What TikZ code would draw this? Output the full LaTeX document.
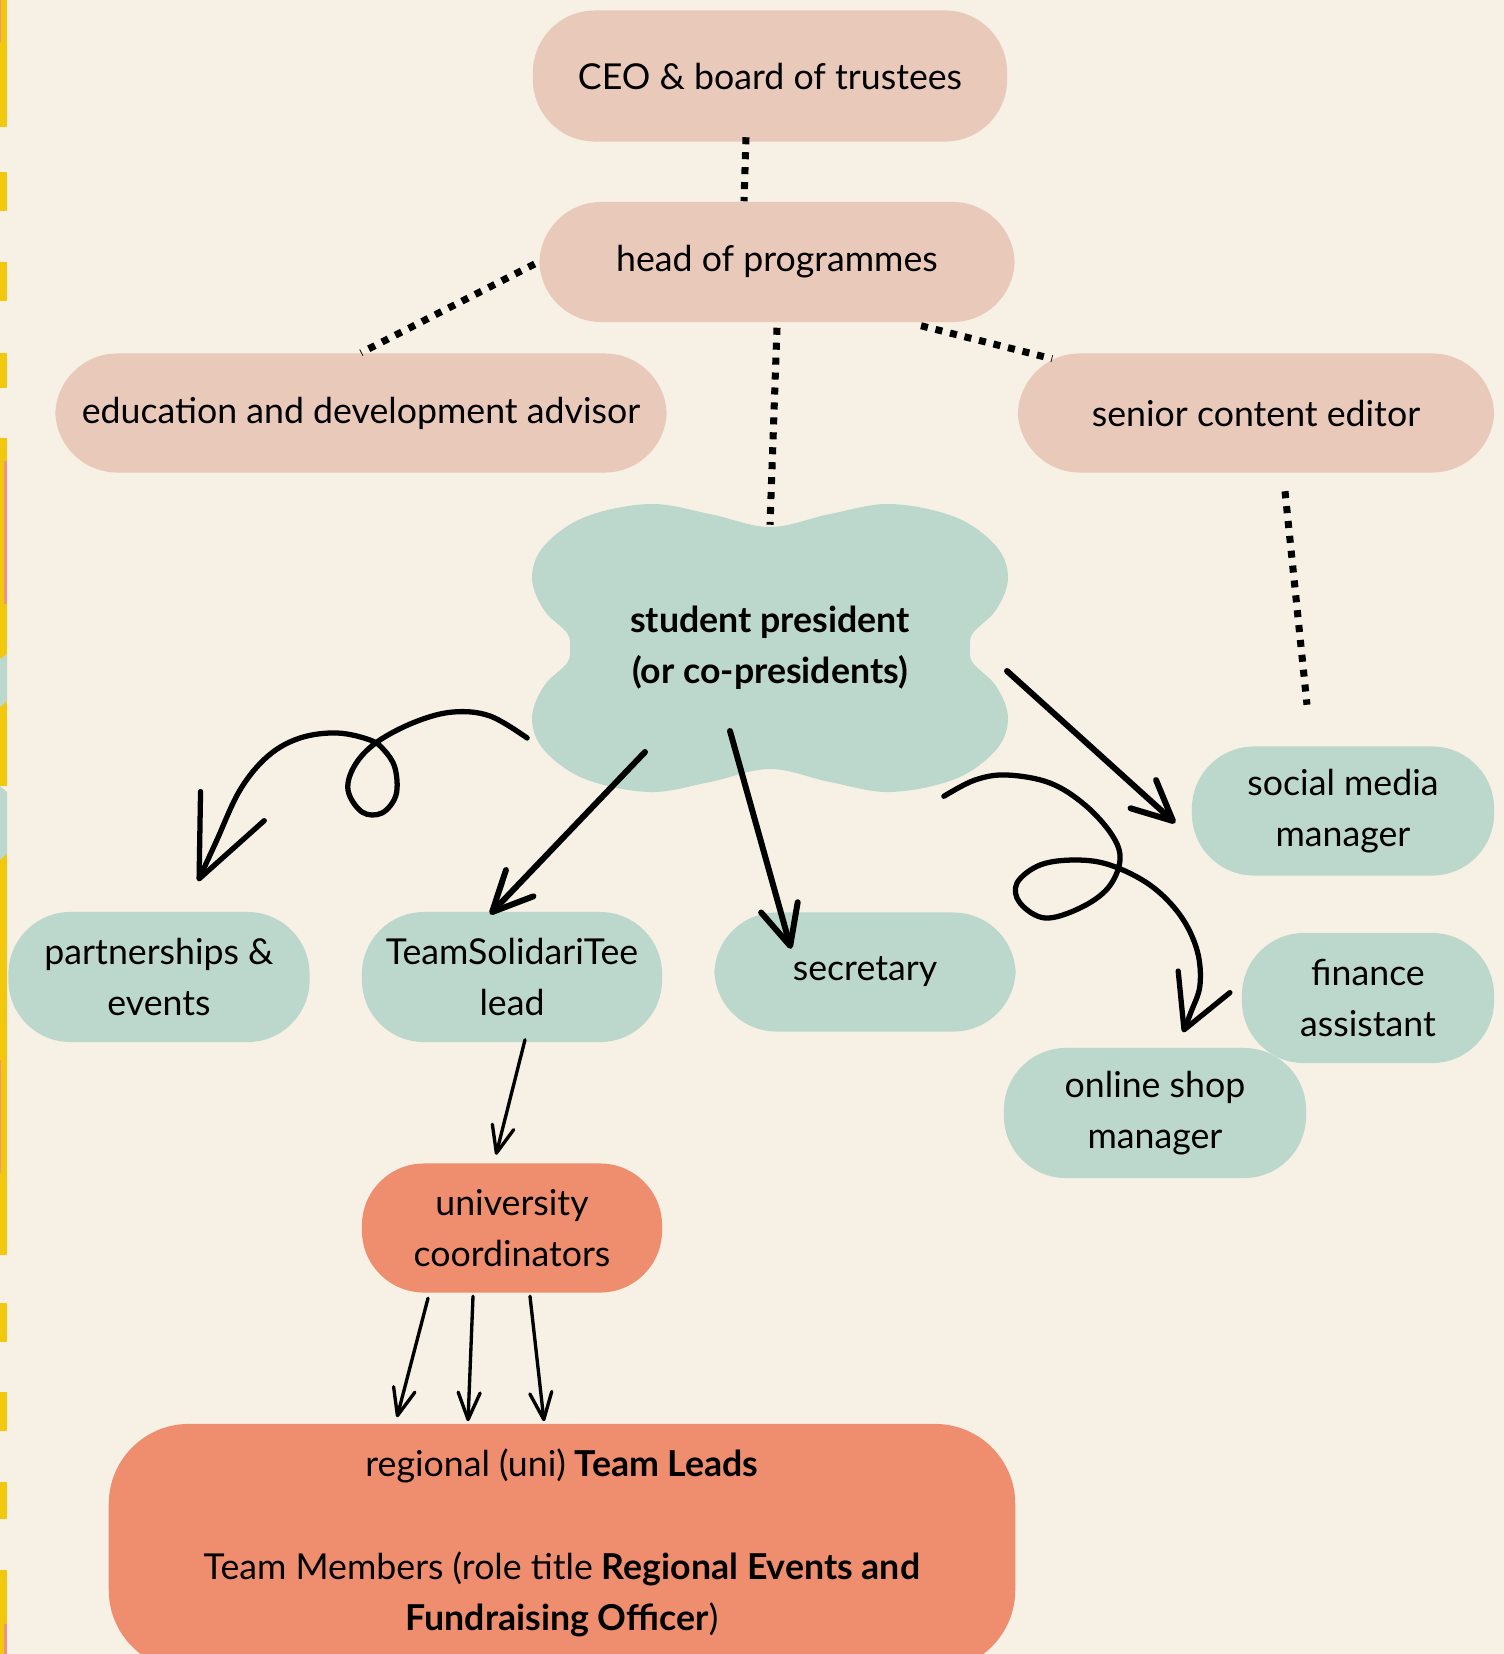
\documentclass[tikz,border=0pt]{standalone}
\usepackage{fontspec}
\setmainfont{Lato}
\usetikzlibrary{arrows.meta,calc}
\definecolor{cream}{HTML}{F6F0E5}
\definecolor{blush}{HTML}{E9C9B9}
\definecolor{mint}{HTML}{BCD8CD}
\definecolor{coral}{HTML}{EF8E6E}
\definecolor{sun}{HTML}{F2C80F}
\definecolor{rose}{HTML}{F0937F}

\begin{document}
\begin{tikzpicture}[
                x=0.01cm, y=-0.01cm,
                every node/.style={
                    font=\fontsize{10.15}{14.6}\selectfont, align=center
                },
                pinkpill/.style={
                    fill=blush, rounded corners=6.2mm
                },
                mintpill/.style={
                    fill=mint, rounded corners=6.2mm
                },
                coralpill/.style={
                    fill=coral, rounded corners=6.2mm
                },
                dotline/.style={
                    line width=2pt, dash pattern=on 2pt off 2.25pt
                },
                bigarrow/.style={
                    line width=1.7pt, line cap=round, -{Straight Barb[round,length=4mm,width=3.8mm]}
                },
                thinarrow/.style={
                    line width=0.95pt, line cap=round, -{Straight Barb[round,length=2.7mm,width=2.2mm]}
                },
                loopy/.style={
                    line width=1.5pt, line cap=round
                }
            ]
            \useasboundingbox (0,0) rectangle (1504,1654);
            \clip (0,0) rectangle (1504,1654);
            \fill[cream] (0,0) rectangle (1504,1654);

            % strip on the left edge
            \foreach \ya/\yb in {0/127, 172/211, 262/301, 353/388, 438/659, 701/786, 854/1255, 1303/1342, 1392/1431, 1482/1519, 1570/1654}
                \fill[sun] (0,\ya) rectangle (7,\yb);
            \fill[mint] (0,659) -- (7,654) -- (7,701) -- (0,707) -- cycle;
            \fill[mint] (0,786) -- (7,792) -- (7,854) -- (0,860) -- cycle;
            \fill[rose] (4,461) rectangle (7,604);
            \fill[rose] (0,1060) rectangle (1,1173);
            \fill[rose] (0,0) rectangle (1,42);
            \fill[rose] (4,1624) rectangle (7,1654);

            % cloud behind the student president
            \coordinate (pc) at (770,648);
            \fill[mint, shift={(pc)}] plot[smooth cycle, tension=0.6] coordinates {
                (0,-121) (60,-134) (120,-144) (185,-131) (226,-102) (238,-70) (226,-38) (203,-15)
                (200,0) (203,15) (226,38) (238,70) (226,102) (185,131) (120,144) (60,134)
                (0,121) (-60,134) (-120,144) (-185,131) (-226,102) (-238,70) (-226,38) (-203,15)
                (-200,0) (-203,-15) (-226,-38) (-238,-70) (-226,-102) (-185,-131) (-120,-144) (-60,-134)};

            \node[pinkpill, minimum width=4.74cm, minimum height=1.31cm] (ceo) at (770,76) {CEO \& board of trustees};
            \node[pinkpill, minimum width=4.75cm, minimum height=1.2cm] (head) at (777,262) {head of programmes};
            \node[pinkpill, minimum width=6.11cm, minimum height=1.19cm] (edu) at (361,413) {education and development advisor};
            \node[pinkpill, minimum width=4.76cm, minimum height=1.19cm] (senior) at (1256,413) {senior content editor};
            \node[minimum width=4.74cm, minimum height=2.87cm, font=\fontsize{10.15}{14.6}\selectfont\bfseries] (pres) at (pc) {student president\\(or co-presidents)};
            \node[mintpill, minimum width=3.02cm, minimum height=1.29cm] (social) at (1343,811) {social media\\manager};
            \node[mintpill, minimum width=3.01cm, minimum height=1.3cm] (partner) at (159,977) {partnerships \&\\events};
            \node[mintpill, minimum width=3cm, minimum height=1.3cm] (tst) at (512,977) {TeamSolidariTee\\lead};
            \node[mintpill, minimum width=3.01cm, minimum height=1.19cm] (sec) at (865,972) {secretary};
            \node[mintpill, minimum width=2.52cm, minimum height=1.3cm] (finance) at (1368,998) {finance\\assistant};
            \node[mintpill, minimum width=3.02cm, minimum height=1.3cm] (shop) at (1155,1113) {online shop\\manager};
            \node[coralpill, minimum width=3cm, minimum height=1.29cm] (univ) at (512,1228) {university\\coordinators};
            \node[coralpill, rounded corners=8mm, minimum width=9.06cm, minimum height=2.46cm] (leads) at (562,1547)
                {regional (uni) \textbf{Team Leads}\\[14.6pt]
                 Team Members (role title \textbf{Regional Events and}\\
                 \textbf{Fundraising Officer})\\[-10.6pt]\mbox{}};

            % dotted links
            \draw[dotline] ($(ceo.south)+(-24,-5)$) -- ($(head.north)+(-33,0)$);
            \draw[dotline] ($(head.west)+(-4,2)$) -- (edu.north);
            \draw[dotline] ($(head.south)+(0,5)$) -- ($(pres.north)+(0,21)$);
            \draw[dotline] ($(head.south)+(144,3)$) -- ($(senior.north west)+(35,6)$);
            \draw[dotline] ($(senior.south)+(29,18)$) -- ($(social.north)+(-36,-41)$);

            % arrows
            \draw[bigarrow] ($(pres.center)+(-125,104)$) -- ($(tst.north)+(-22,3)$);
            \draw[bigarrow] ($(pres.center)+(-40,83)$) -- ($(sec.north)+(-74,37)$);
            \draw[bigarrow] ($(pres.center)+(237,23)$) -- ($(social.west)+(-16,12)$);

            \coordinate (pl0) at ($(pres.west)+(-5,90)$);
            \coordinate (pl1) at ($(partner.north)+(39,-30)$);
            \draw[loopy, -{Straight Barb[round,length=8mm,width=7mm]}] plot[smooth, tension=0.6] coordinates {
                (pl0) (490,716) (453,712) (415,722) (377,742) (355,765) (348,790) (362,812) (382,813)
                (396,795) (395,768) (384,750) (370,740) (337,733) (300,738) (268,756) (240,790) (216,842) (pl1)};

            \coordinate (sl0) at ($(pres.south east)+(-64,4)$);
            \coordinate (sl1) at ($(shop.north)+(28,-15)$);
            \draw[loopy, -{Straight Barb[round,length=5.2mm,width=5.6mm]}] plot[smooth, tension=0.6] coordinates {
                (sl0) (975,780) (1007,775) (1050,783) (1085,805) (1112,835) (1120,860) (1108,888) (1080,908)
                (1045,918) (1020,903) (1017,883) (1040,865) (1075,860) (1110,865) (1150,885) (1180,915)
                (1197,950) (1200,985) (1191,1012) (sl1)};

            \draw[thinarrow] ($(tst.south)+(13,-3)$) -- ($(univ.north)+(-16,-8)$);
            \draw[thinarrow] ($(univ.south)+(-84,5)$) -- ($(leads.north)+(-165,-6)$);
            \draw[thinarrow] ($(univ.south)+(-39,3)$) -- ($(leads.north)+(-94,-2)$);
            \draw[thinarrow] ($(univ.south)+(18,3)$) -- ($(leads.north)+(-18,-2)$);
            \end{tikzpicture}
\end{document}
